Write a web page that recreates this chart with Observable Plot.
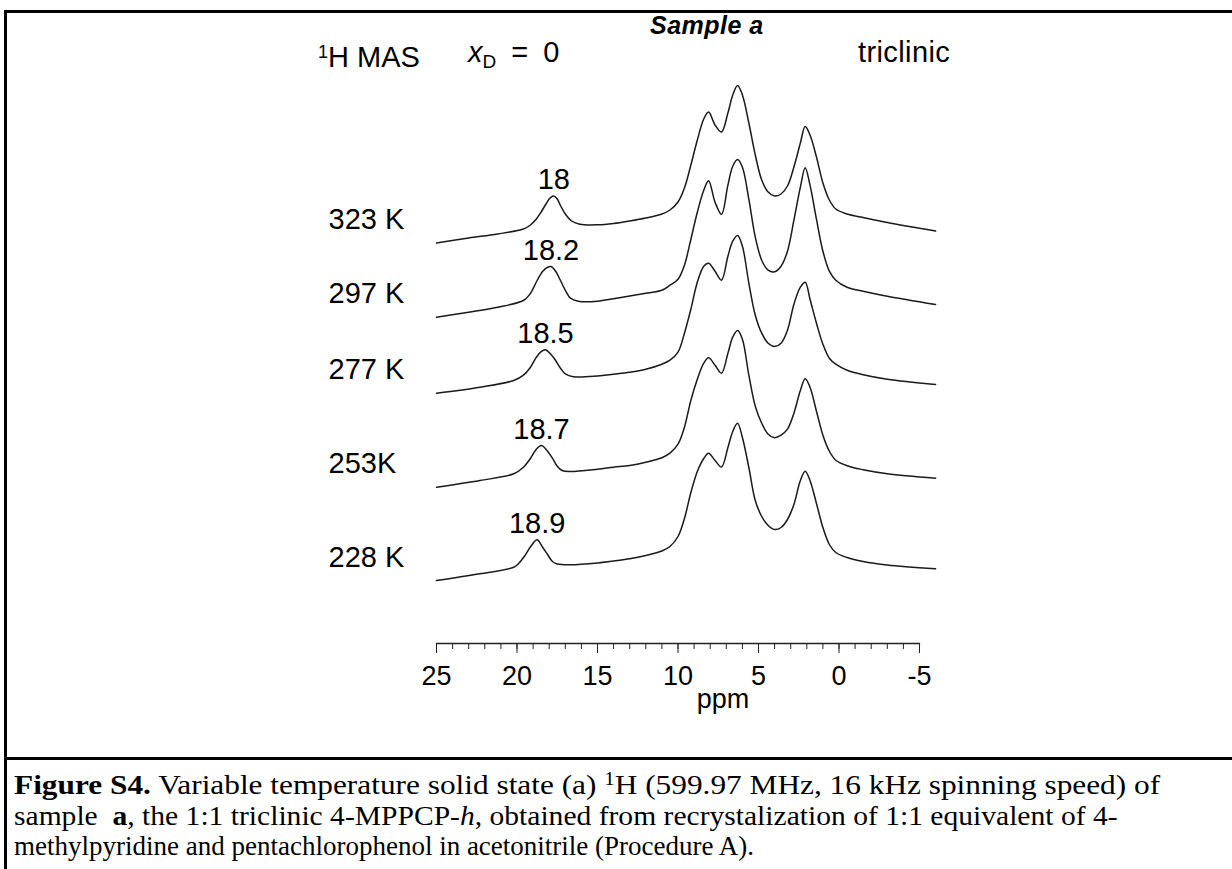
<!DOCTYPE html>
<html>
<head>
<meta charset="utf-8">
<script src="https://cdn.jsdelivr.net/npm/d3@7"></script>
<script src="https://cdn.jsdelivr.net/npm/@observablehq/plot@0.6"></script>
<style>
  html, body { margin: 0; padding: 0; background: #fff; }
  body { width: 1232px; height: 869px; position: relative; overflow: hidden; font-family: "Liberation Sans", Arial, sans-serif; }
  #box { position: absolute; left: 4px; top: 10px; width: 1300px; height: 1000px; border: 3px solid #000; box-sizing: border-box; }
  #sep { position: absolute; left: 4px; top: 757px; width: 1300px; height: 3px; background: #000; }
  #chart { position: absolute; left: 0; top: 0; }
  .ann { position: absolute; white-space: nowrap; color: #000; font-size: 29px; line-height: 29px; }
  #caption { position: absolute; left: 14px; top: 764px; font-family: "Liberation Serif", "Times New Roman", serif; font-size: 27px; line-height: 30.5px; color: #000; white-space: nowrap; }
  #caption div { transform-origin: 0 0; }
</style>
</head>
<body>
<div id="box"></div>
<div id="sep"></div>
<div id="chart"></div>
<div class="ann" style="left:650px; top:13px; font-size:25px; line-height:25px; font-weight:bold; font-style:italic; letter-spacing:0.5px;">Sample a</div>
<div class="ann" style="left:318px; top:38px;"><sup style="font-size:18px; vertical-align:9px;">1</sup>H MAS</div>
<div class="ann" style="left:468px; top:38px; word-spacing:7px;"><i>x</i><sub style="font-size:19px; vertical-align:-6px;">D</sub> = 0</div>
<div class="ann" style="left:858px; top:38px; letter-spacing:0.4px;">triclinic</div>
<div id="caption">
  <div style="transform: scaleX(1.16);"><b>Figure S4.</b> Variable temperature solid state (a) <sup style="font-size:18px; vertical-align:9px;">1</sup>H (599.97 MHz, 16 kHz spinning speed) of</div>
  <div style="transform: scaleX(1.095);">sample&nbsp; <b>a</b>, the 1:1 triclinic 4-MPPCP-<i>h</i>, obtained from recrystalization of 1:1 equivalent of 4-</div>
  <div>methylpyridine and pentachlorophenol in acetonitrile (Procedure A).</div>
</div>
<script>
// ---- Data ----
// Temperatures (top to bottom)
const temps = ["323 K", "297 K", "277 K", "253K", "228 K"];
// Vertical stacking offset of each trace (intensity units)
const offsets = [457.5, 383.3, 307.3, 213.3, 120];
// Labelled hydrogen-bond peak of each trace
const peakLabels = ["18", "18.2", "18.5", "18.7", "18.9"];
const peakPpm = [17.71, 17.89, 18.23, 18.48, 18.75];
const peakInt = [47, 50.7, 43.4, 41.7, 40.7];
// Axis ticks
const majorTicks = [25, 20, 15, 10, 5, 0, -5];
const minorTicks = [25,24,23,22,21,20,19,18,17,16,15,14,13,12,11,10,9,8,7,6,5,4,3,2,1,0,-1,-2,-3,-4,-5];

// Low-field part of each spectrum (own sampling around the 18-19 ppm peak)
const ppmLow323 = [25, 23, 21.2, 19.6, 19.2, 18.8, 18.5, 18.2, 17.95, 17.71, 17.5, 17.3, 17.0, 16.6, 16.1, 15, 14, 13, 12, 11];
const intLow323 = [0, 5, 9, 14, 17.5, 24, 31, 39, 45, 47, 44, 37.5, 29, 22, 18.8, 18.2, 19.5, 22, 25, 29];
const ppmLow297 = [25, 23, 21.2, 19.6, 19.2, 18.75, 18.4, 18.1, 17.89, 17.6, 17.3, 17.0, 16.68, 16.2, 15, 14, 13, 12, 11];
const intLow297 = [0, 5, 10, 16.7, 23, 36.7, 46, 50, 50.7, 46, 36.7, 27, 19, 16, 16, 18.5, 21.2, 24, 27];
const ppmLow277 = [25, 22.3, 20.2, 19.6, 19.16, 18.8, 18.5, 18.23, 17.9, 17.6, 17.3, 17.0, 16.5, 15, 14, 13, 12, 11];
const intLow277 = [0, 6, 12.7, 18, 26, 36, 41.5, 43.4, 39, 32.7, 25, 19.4, 16.5, 17.2, 19, 21, 24, 29];
const ppmLow253 = [25, 22.3, 20.2, 19.6, 19.2, 18.8, 18.48, 18.15, 17.8, 17.5, 17.2, 16.7, 15, 14, 13, 12, 11];
const intLow253 = [0, 6.7, 13.4, 20, 28, 38, 41.7, 37, 29, 21, 16.7, 15.7, 18, 20, 21.7, 25, 29.5];
const ppmLow228 = [25, 22.3, 20.2, 19.9, 19.55, 19.15, 18.75, 18.4, 18.1, 17.8, 17.5, 16.7, 15, 14, 13, 12, 11];
const intLow228 = [0, 6.7, 13.3, 17, 24, 34, 40.7, 33, 26, 19, 16.5, 15.7, 17.5, 19.5, 21.7, 25, 29.5];

// Aromatic / methyl part, common sampling
const ppmMain = [10.5, 10.0, 9.6, 9.2, 8.8, 8.4, 8.1, 7.7, 7.3, 6.9, 6.6, 6.3, 6.0, 5.6, 5.2, 4.8, 4.4, 4.0, 3.6, 3.2, 2.8, 2.4, 2.1, 1.8, 1.4, 1.0, 0.6, 0.2, -0.5, -1.5, -3, -6];
const intMain323 = [33, 41, 55, 78, 103, 124, 131, 118, 111, 130, 148, 157.5, 148, 120, 88, 63, 51, 47, 49, 57, 76, 100, 116.5, 108, 86, 60, 43, 34, 29, 25.5, 20.5, 12];
const intMain297 = [32, 38, 52, 78, 105, 127, 136.5, 115, 103, 132, 151, 157.7, 150, 118, 80, 57, 47, 45.5, 51, 66, 97, 130, 149.4, 132, 98, 66, 46, 37, 30, 26, 21, 12.7];
const intMain277 = [33, 41, 60, 84, 111, 127, 130, 122, 113, 137, 152, 157.7, 147, 110, 78, 60, 50, 46.7, 50, 63, 89, 106, 111, 94, 70, 49, 35, 29, 23, 18.5, 14, 8.7];
const intMain253 = [34, 43, 60, 87, 108, 124, 129.4, 122, 114, 134, 150, 156.7, 148, 112, 81, 64, 53, 49.5, 52, 58, 74, 96.7, 108.4, 100, 76, 52, 36, 27, 21.5, 17.5, 13.5, 9];
const intMain228 = [34, 44, 62, 88, 109, 122, 127.3, 120, 113.5, 133, 149, 157.3, 143, 113, 80, 64, 55, 51, 53, 61, 76, 100, 109.3, 100, 77, 53, 36, 28, 23, 19, 15.5, 11.7];

// ---- Build tables for the library ----
const lowPpm = [ppmLow323, ppmLow297, ppmLow277, ppmLow253, ppmLow228];
const lowInt = [intLow323, intLow297, intLow277, intLow253, intLow228];
const mainInt = [intMain323, intMain297, intMain277, intMain253, intMain228];
const traces = temps.flatMap((t, i) => [
  ...lowPpm[i].map((p, j) => ({temp: t, ppm: p, y: offsets[i] + lowInt[i][j]})),
  ...ppmMain.map((p, j) => ({temp: t, ppm: p, y: offsets[i] + mainInt[i][j]}))
]);
const tempRows = temps.map((t, i) => ({temp: t, y: offsets[i]}));
const peakRows = peakLabels.map((l, i) => ({label: l, ppm: peakPpm[i], y: offsets[i] + peakInt[i]}));

const font = '"Liberation Sans", Arial, sans-serif';
const chart = Plot.plot({
  width: 1232,
  height: 720,
  marginLeft: 436,
  marginRight: 313,
  marginTop: 0,
  marginBottom: 77,
  style: {fontFamily: font, fontSize: "27px", color: "#000", background: "transparent", overflow: "visible"},
  x: {domain: [25, -5]},
  y: {domain: [0, 700], range: [700, 0], axis: null},
  marks: [
    Plot.line(traces, {x: "ppm", y: "y", z: "temp", curve: "catmull-rom", stroke: "#1a1a1a", strokeWidth: 1.5, clip: false}),
    Plot.text(tempRows, {x: () => 25, y: "y", text: "temp", textAnchor: "start", dx: -108, dy: -23, fontSize: 29, fill: "#000"}),
    Plot.text(peakRows, {x: "ppm", y: "y", text: "label", dy: -16, fontSize: 29, fill: "#000"}),
    Plot.frame({anchor: "bottom", stroke: "#222", strokeWidth: 1.3}),
    Plot.axisX({ticks: minorTicks, tickSize: 6, text: null, label: null, stroke: "#222"}),
    Plot.axisX({ticks: majorTicks, tickSize: 10, tickPadding: 12, label: null, fontSize: 27, stroke: "#222", tickFormat: d => String(d).replace("−", "-")}),
    Plot.text(["ppm"], {frameAnchor: "bottom", dx: 45, dy: 64, fontSize: 27, fill: "#000", text: d => d})
  ]
});
document.getElementById("chart").appendChild(chart);
</script>
</body>
</html>
